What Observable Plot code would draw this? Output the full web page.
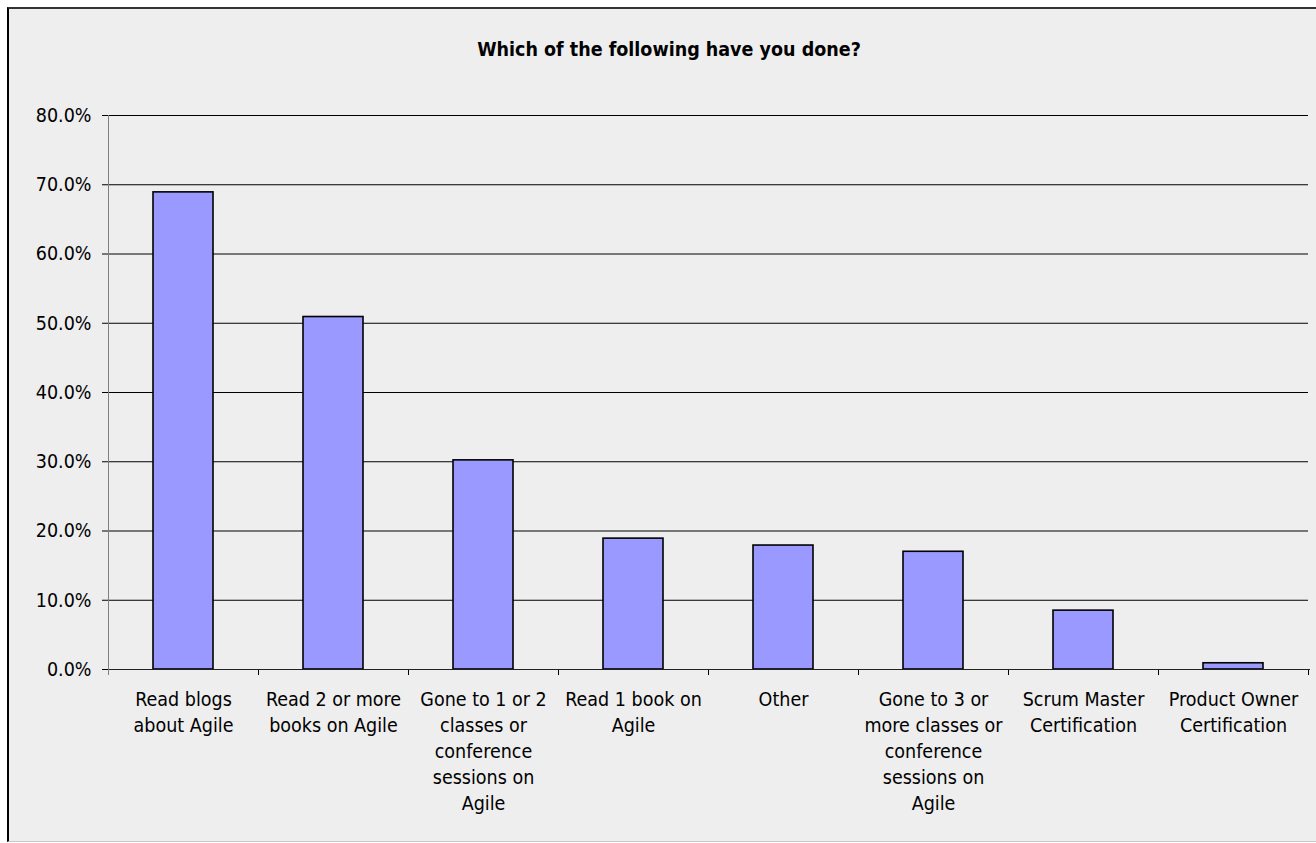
<!DOCTYPE html>
<html>
<head>
<meta charset="utf-8">
<script src="https://cdn.jsdelivr.net/npm/d3@7"></script>
<script src="https://cdn.jsdelivr.net/npm/@observablehq/plot@0.6"></script>
<style>
  html, body { margin: 0; padding: 0; background: #ffffff; overflow: hidden; }
  body { position: relative; width: 1316px; height: 843px; font-family: "DejaVu Sans Condensed", "DejaVu Sans", sans-serif; }
  #frame { position: absolute; left: 7px; top: 7px; width: 1320px; height: 832px; background: #eeeeee;
           border-left: 2px solid #000; border-top: 2px solid #333; border-bottom: 1px solid #c8c8c8; }
  #title { position: absolute; left: 0; top: 31px; width: 1320px; text-align: center; font-weight: bold;
           font-size: 19.5px; line-height: 20px; color: #000; }
  #chart { position: absolute; left: 0; top: 75px; }
</style>
</head>
<body>
<div id="frame"><div id="title">Which of the following have you done?</div></div>
<div id="chart"></div>
<script>
const categories = [
  "Read blogs about Agile",
  "Read 2 or more books on Agile",
  "Gone to 1 or 2 classes or conference sessions on Agile",
  "Read 1 book on Agile",
  "Other",
  "Gone to 3 or more classes or conference sessions on Agile",
  "Scrum Master Certification",
  "Product Owner Certification"
];
const tickLabels = [
  "Read blogs\nabout Agile",
  "Read 2 or more\nbooks on Agile",
  "Gone to 1 or 2\nclasses or\nconference\nsessions on\nAgile",
  "Read 1 book on\nAgile",
  "Other",
  "Gone to 3 or\nmore classes or\nconference\nsessions on\nAgile",
  "Scrum Master\nCertification",
  "Product Owner\nCertification"
];
const values = [0.689, 0.509, 0.302, 0.189, 0.179, 0.170, 0.085, 0.009];
const yTicks = [0, 0.1, 0.2, 0.3, 0.4, 0.5, 0.6, 0.7, 0.8];

const data = categories.map((c, i) => ({cat: c, val: values[i]}));
const labelOf = new Map(categories.map((c, i) => [c, tickLabels[i]]));

function axesFrame(index, scales, values, dim) {
  const ns = "http://www.w3.org/2000/svg";
  const g = document.createElementNS(ns, "g");
  const y0 = scales.y(0), yTop = scales.y(d3.max(yTicks));
  const x0 = dim.marginLeft, x1 = dim.width - dim.marginRight;
  const n = categories.length;
  const step = (x1 - x0) / n;
  const line = (xa, ya, xb, yb, color) => {
    const l = document.createElementNS(ns, "line");
    l.setAttribute("x1", xa); l.setAttribute("y1", ya);
    l.setAttribute("x2", xb); l.setAttribute("y2", yb);
    l.setAttribute("stroke", color); l.setAttribute("stroke-width", 1);
    l.setAttribute("shape-rendering", "crispEdges");
    g.appendChild(l);
  };
  for (let i = 0; i <= n; i++) line(x0 + i * step, y0, x0 + i * step, y0 + 6, "#000");
  line(x0, y0, x1 + 2, y0, "#222");
  line(x0, yTop, x0, y0 + 6, "#808080");
  return g;
}

const chart = Plot.plot({
  width: 1316,
  height: 768,
  marginLeft: 108,
  marginRight: 8,
  marginTop: 40,
  marginBottom: 174,
  style: {background: "transparent", fontFamily: "'DejaVu Sans Condensed', 'DejaVu Sans', sans-serif", fontSize: "19.5px", color: "#000"},
  x: {type: "band", domain: categories, paddingInner: 0.6, paddingOuter: 0.3, align: 0.5},
  y: {domain: [0, 0.8]},
  marks: [
    Plot.gridY(yTicks.filter(d => d > 0), {stroke: "#000", strokeOpacity: 1, strokeWidth: 1}),
    Plot.barY(data, {x: "cat", y: "val", fill: "#9999ff", stroke: "#000", strokeWidth: 1.6}),
    axesFrame,
    Plot.axisY({ticks: yTicks, tickFormat: d => (d * 100).toFixed(1) + "%", tickSize: 6, tickPadding: 11,
                stroke: "#000", fontSize: 19.5, label: null}),
    Plot.axisX({tickSize: 0, tickPadding: 18, tickFormat: d => labelOf.get(d), fontSize: 19.5,
                lineHeight: 1.33, label: null})
  ]
});
document.getElementById("chart").appendChild(chart);
</script>
</body>
</html>
